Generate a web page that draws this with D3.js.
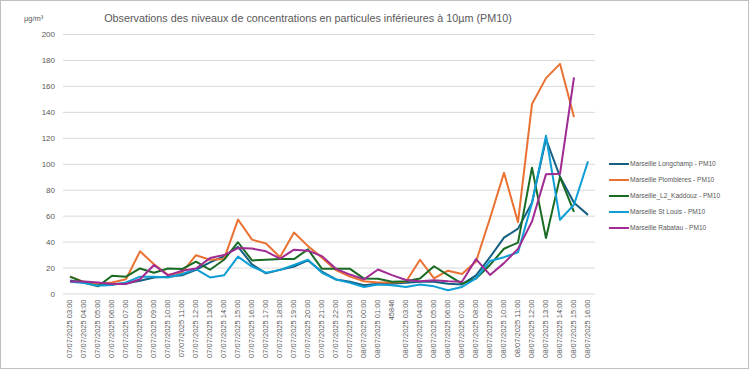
<!DOCTYPE html>
<html>
<head>
<meta charset="utf-8">
<script src="https://cdn.jsdelivr.net/npm/d3@7"></script>
<style>
  body { margin: 0; background: #fff; }
  svg text { font-family: "Liberation Sans", Arial, sans-serif; fill: #595959; }
  .grid line { stroke: #d9d9d9; stroke-width: 1; }
  .grid .domain { display: none; }
</style>
</head>
<body>
<script>
//categories (as shown on the x axis)
var categories = [
    "07/07/2025 03:00", "07/07/2025 04:00", "07/07/2025 05:00", "07/07/2025 06:00",
    "07/07/2025 07:00", "07/07/2025 08:00", "07/07/2025 09:00", "07/07/2025 10:00",
    "07/07/2025 11:00", "07/07/2025 12:00", "07/07/2025 13:00", "07/07/2025 14:00",
    "07/07/2025 15:00", "07/07/2025 16:00", "07/07/2025 17:00", "07/07/2025 18:00",
    "07/07/2025 19:00", "07/07/2025 20:00", "07/07/2025 21:00", "07/07/2025 22:00",
    "07/07/2025 23:00", "08/07/2025 00:00", "08/07/2025 01:00", "45846",
    "08/07/2025 03:00", "08/07/2025 04:00", "08/07/2025 05:00", "08/07/2025 06:00",
    "08/07/2025 07:00", "08/07/2025 08:00", "08/07/2025 09:00", "08/07/2025 10:00",
    "08/07/2025 11:00", "08/07/2025 12:00", "08/07/2025 13:00", "08/07/2025 14:00",
    "08/07/2025 15:00", "08/07/2025 16:00"
];

//series names
var seriesNames = [
    "Marseille Longchamp - PM10",
    "Marseille Plombières - PM10",
    "Marseille_L2_Kaddouz  - PM10",
    "Marseille St Louis - PM10",
    "Marseille Rabatau - PM10"
];

var seriesColors = ["#156082", "#E97132", "#196B24", "#0F9ED5", "#A02B93"];

//values (µg/m³)
var longchamp = [10, 8.5, 7.3, 7.3, 7.8, 9.8, 12.4, 13, 14, 18.3, 24, 28.6, 36, 22.5, 15.5, 18.2, 20.8, 25.5, 16.8,
    10.8, 9, 6.3, 7.6, 7.6, 8.2, 9, 9, 7.6, 7, 14, 28, 43, 50, 70, 119, 90, 70, 60.6];
var plombieres = [13, 9, 7.5, 8.5, 11, 32.5, 22.5, 14.5, 16, 29.5, 26, 26.5, 57, 41.5, 38.5, 28, 47, 36.5, 27.5,
    18, 13, 9.5, 8.5, 8.5, 9, 26, 11.6, 17.6, 15, 24.6, 58, 93, 55, 146, 166, 177, 136, null];
var kaddouz = [13, 8.5, 5.5, 13.7, 13, 19.3, 16, 19.3, 18.8, 24.5, 18.3, 26, 39.5, 25.5, 26, 26.5, 26.5, 34, 19,
    19, 19, 11.5, 11.3, 9.1, 9.5, 11.5, 21, 14.2, 7.6, 11.6, 22, 34.5, 39.2, 97, 42.7, 89.7, 63, null];
var stLouis = [9, 8, 6, 6.5, 8.5, 13, 13, 12.4, 15, 18.8, 12.4, 14, 28.4, 20.7, 16, 18.2, 22, 26, 16,
    10.8, 8.2, 5, 7, 6.3, 5, 7, 5.5, 2.5, 5, 11.6, 25, 28, 31.7, 69.7, 121.6, 56.8, 68.4, 101.8];
var rabatau = [9.3, 9.3, 8.5, 7.3, 7.3, 11, 22, 14, 17.5, 19.3, 27.3, 29.6, 35, 34.6, 32.5, 26.8, 33.8, 33, 28.8,
    19, 14.6, 10.9, 18.5, 14.2, 10.4, 9.4, 10.3, 9.4, 9, 26.5, 14.3, 23.4, 34.4, 55.5, 92, 92.3, 166.6, null];

var seriesValues = [longchamp, plombieres, kaddouz, stLouis, rabatau];

var yTicks = [0, 20, 40, 60, 80, 100, 120, 140, 160, 180, 200];

//frame dimensions
var chartWidth = 750, chartHeight = 370,
    plotLeft = 63, plotRight = 595, plotTop = 34, plotBottom = 293.5;

var svg = d3.select("body")
    .append("svg")
    .attr("width", chartWidth)
    .attr("height", chartHeight);

//chart border
svg.append("rect")
    .attr("x", 0.5).attr("y", 0.5)
    .attr("width", 748).attr("height", 368)
    .attr("fill", "#fff")
    .attr("stroke", "#bfbfbf");

var x = d3.scaleBand()
    .domain(categories)
    .range([plotLeft, plotRight])
    .padding(0);

var y = d3.scaleLinear()
    .domain([0, 200])
    .range([plotBottom, plotTop]);

//gridlines + y labels
var yAxis = d3.axisLeft(y)
    .tickValues(yTicks)
    .tickSize(-(plotRight - plotLeft))
    .tickPadding(8);

var gy = svg.append("g")
    .attr("class", "grid")
    .attr("transform", "translate(" + plotLeft + ",0)")
    .call(yAxis);
gy.selectAll("text")
    .style("font-size", "8px")
    .attr("x", -8);

//x labels, rotated
var xAxis = d3.axisBottom(x)
    .tickSize(0)
    .tickPadding(0);

var gx = svg.append("g")
    .attr("transform", "translate(0," + plotBottom + ")")
    .call(xAxis);
gx.select(".domain").remove();
gx.selectAll("text")
    .style("font-size", "7.5px")
    .attr("text-anchor", "end")
    .attr("dy", "0.32em")
    .attr("transform", "translate(0,6) rotate(-90)")
    .attr("x", 0)
    .attr("y", 0);

//lines
var line = d3.line()
    .defined(function(d){ return d != null; })
    .x(function(d, i){ return x(categories[i]) + x.bandwidth() / 2; })
    .y(function(d){ return y(d); });

seriesValues.forEach(function(vals, k){
    svg.append("path")
        .datum(vals)
        .attr("fill", "none")
        .attr("stroke", seriesColors[k])
        .attr("stroke-width", 2)
        .attr("stroke-linejoin", "round")
        .attr("d", line);
});

//title and unit
svg.append("text")
    .attr("x", 308)
    .attr("y", 22)
    .attr("text-anchor", "middle")
    .style("font-size", "10.8px")
    .text("Observations des niveaux de concentrations en particules inférieures à 10µm (PM10)");

svg.append("text")
    .attr("x", 24)
    .attr("y", 21)
    .style("font-size", "7.5px")
    .text("µg/m³");

//legend
var legend = svg.selectAll(".legend")
    .data(seriesNames)
    .enter()
    .append("g")
    .attr("class", "legend")
    .attr("transform", function(d, i){ return "translate(609," + (164 + i * 16) + ")"; });

legend.append("line")
    .attr("x1", 0).attr("x2", 20)
    .attr("stroke", function(d, i){ return seriesColors[i]; })
    .attr("stroke-width", 2);

legend.append("text")
    .attr("x", 21)
    .attr("dy", "0.32em")
    .style("font-size", "6.6px")
    .text(function(d){ return d; });
</script>
</body>
</html>
